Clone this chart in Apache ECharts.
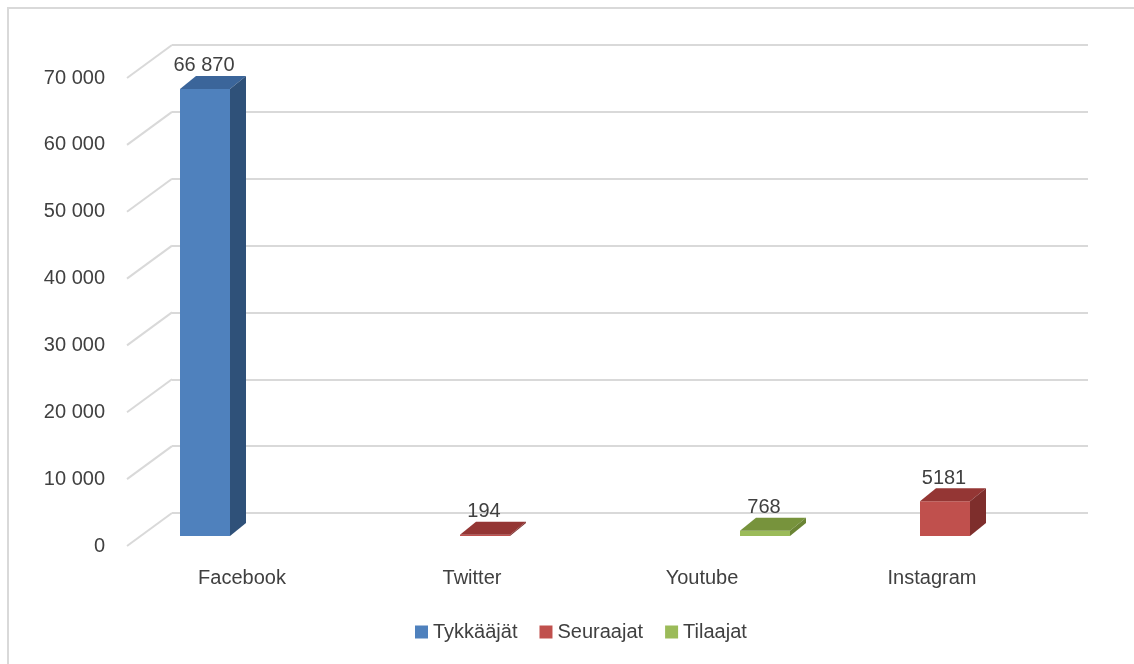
<!DOCTYPE html>
<html>
<head>
<meta charset="utf-8">
<script src="https://cdn.jsdelivr.net/npm/echarts@6/dist/echarts.min.js"></script>
<style>
html,body{margin:0;padding:0;background:#fff;}
#chart{width:1134px;height:664px;}
</style>
</head>
<body>
<div id="chart"></div>
<script>
// ---- data ----
var categories = ['Facebook', 'Twitter', 'Youtube', 'Instagram'];
var seriesNames = ['Tykkääjät', 'Seuraajat', 'Tilaajat'];
var tykkaajat = [66870, null, null, null];
var seuraajat = [null, 194, null, 5181];
var tilaajat  = [null, null, 768, null];
var yTicks = [0, 10000, 20000, 30000, 40000, 50000, 60000, 70000];

// ---- style ----
var FONT = "'Liberation Sans Narrow','Arial Narrow','Liberation Sans',Arial,sans-serif";
var FS = 20;
var TXT = '#404040';
var palettes = [
  {front: '#4F81BD', top: '#3B659A', side: '#2F5179'},
  {front: '#C0504D', top: '#943634', side: '#7E2E2C'},
  {front: '#9BBB59', top: '#77933C', side: '#6A8434'}
];
var offsets = [-50, 0, 50];
var DX = 16, DY = 13, BW = 50;

function spaced(v) { return String(v).replace(/\B(?=(\d{3})+(?!\d))/g, ' '); }
function barLabel(v) { return v >= 10000 ? spaced(v) : String(v); }

function toData(arr) {
  var out = [];
  arr.forEach(function (v, i) { if (v !== null) out.push([i, v]); });
  return out;
}

function makeRender(k) {
  var pal = palettes[k], off = offsets[k];
  return function (params, api) {
    var cat = api.value(0), v = api.value(1);
    var top = api.coord([cat, v]);
    var base = api.coord([cat, 0]);
    var x0 = top[0] + off - BW / 2, x1 = x0 + BW;
    var yT = top[1], yB = base[1];
    return {
      type: 'group',
      children: [
        {type: 'rect', shape: {x: x0, y: yT, width: BW, height: Math.max(yB - yT, 0.8)},
         style: {fill: pal.front}},
        {type: 'polygon', shape: {points: [[x0, yT], [x1, yT], [x1 + DX, yT - DY], [x0 + DX, yT - DY]]},
         style: {fill: pal.top}},
        {type: 'polygon', shape: {points: [[x1, yT], [x1 + DX, yT - DY], [x1 + DX, yB - DY], [x1, yB]]},
         style: {fill: pal.side}},
        {type: 'text', style: {text: barLabel(v), x: x0 + BW / 2 - 1, y: yT - DY - 10,
          align: 'center', verticalAlign: 'middle', font: FS + 'px ' + FONT, fill: TXT}}
      ]
    };
  };
}

var seriesArrays = [tykkaajat, seuraajat, tilaajat];

var series = [
  // diagonal floor/wall lines from front axis to back wall
  {
    type: 'custom', xAxisIndex: 0, yAxisIndex: 0, silent: true,
    data: yTicks.map(function (t) { return [0, t]; }),
    renderItem: function (params, api) {
      var p = api.coord([0, api.value(1)]);
      var x = params.coordSys.x;
      return {type: 'line', shape: {x1: x, y1: p[1], x2: x + 45, y2: p[1] - 33},
        style: {stroke: '#d9d9d9', lineWidth: 2}};
    },
    z: 1
  }
];
seriesArrays.forEach(function (arr, k) {
  series.push({
    name: seriesNames[k], type: 'custom', xAxisIndex: 2, yAxisIndex: 2,
    data: toData(arr), renderItem: makeRender(k),
    itemStyle: {color: palettes[k].front}, z: 5
  });
});

var yBase = {type: 'value', min: 0, max: 70000, interval: 10000};

var option = {
  animation: false,
  backgroundColor: '#fff',
  graphic: [{type: 'rect', shape: {x: 8, y: 8, width: 2000, height: 2000},
    style: {fill: 'none', stroke: '#d9d9d9', lineWidth: 2}, silent: true}],
  grid: [
    {left: 127, top: 78, width: 920, height: 468},
    {left: 172, top: 45, width: 916, height: 468},
    {left: 140, top: 68, width: 920, height: 468}
  ],
  xAxis: [
    {gridIndex: 0, type: 'category', data: categories, axisLine: {show: false}, axisTick: {show: false},
     axisLabel: {color: TXT, fontSize: FS, fontFamily: FONT, margin: 22}, splitLine: {show: false}},
    {gridIndex: 1, type: 'category', data: categories, show: false},
    {gridIndex: 2, type: 'category', data: categories, show: false}
  ],
  yAxis: [
    Object.assign({gridIndex: 0, axisLine: {show: false}, axisTick: {show: false}, splitLine: {show: false},
      axisLabel: {color: TXT, fontSize: FS, fontFamily: FONT, margin: 22, formatter: spaced,
                  padding: [3, 0, 0, 0]}}, yBase),
    Object.assign({gridIndex: 1, axisLine: {show: false}, axisTick: {show: false}, axisLabel: {show: false},
      splitLine: {show: true, lineStyle: {color: '#d9d9d9', width: 2}}}, yBase),
    Object.assign({gridIndex: 2, show: false, splitLine: {show: false}}, yBase)
  ],
  legend: {
    data: seriesNames, left: 410, top: 617, icon: 'rect', itemWidth: 13, itemHeight: 13, itemGap: 22,
    textStyle: {color: TXT, fontSize: FS, fontFamily: FONT}
  },
  series: series
};

var chart = echarts.init(document.getElementById('chart'), null, {renderer: 'canvas'});
chart.setOption(option);
</script>
</body>
</html>
